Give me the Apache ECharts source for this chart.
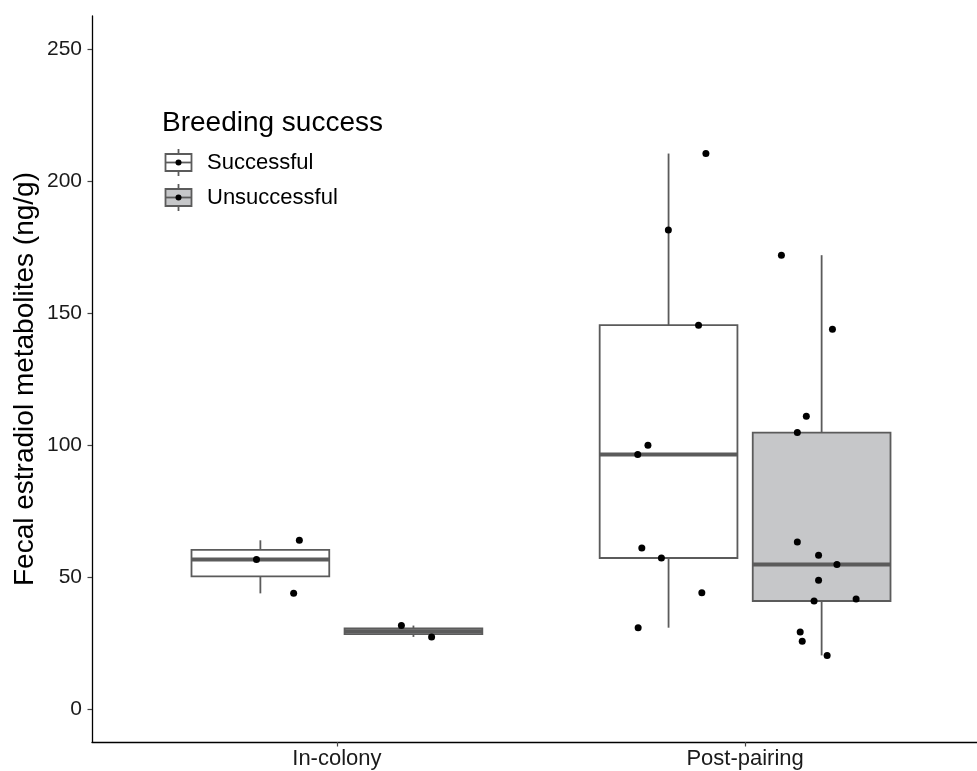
<!DOCTYPE html>
<html>
<head>
<meta charset="utf-8">
<script src="https://cdn.jsdelivr.net/npm/echarts@6/dist/echarts.min.js"></script>
<style>
html,body{margin:0;padding:0;background:#fff;overflow:hidden;width:977px;height:771px;}
#chart{width:1000px;height:771px;}
</style>
</head>
<body>
<div id="chart"></div>
<script>
// ---------- data ----------
const categories = ['In-colony', 'Post-pairing'];
const groups = ['Successful', 'Unsuccessful'];
const yTicks = [0, 50, 100, 150, 200, 250];

// individual measurements (ng/g) and their jittered x positions
const inColonySuccessful = [63.9, 56.6, 43.8];
const inColonySuccessfulX = [0.908, 0.803, 0.894];
const inColonyUnsuccessful = [31.6, 27.3];
const inColonyUnsuccessfulX = [1.158, 1.232];
const postSuccessful = [210.4, 181.4, 145.4, 99.9, 96.4, 61.0, 57.2, 44.0, 30.8];
const postSuccessfulX = [1.904, 1.812, 1.886, 1.762, 1.737, 1.747, 1.795, 1.894, 1.738];
const postUnsuccessful = [171.9, 143.8, 110.9, 104.7, 63.3, 58.2, 54.7, 48.8, 40.9, 41.7, 29.2, 25.7, 20.3];
const postUnsuccessfulX = [2.089, 2.214, 2.150, 2.128, 2.128, 2.180, 2.225, 2.180, 2.169, 2.272, 2.135, 2.140, 2.201];

// ---------- helpers ----------
function quantile7(sorted, p) {
  const h = (sorted.length - 1) * p;
  const lo = Math.floor(h), hi = Math.ceil(h);
  return sorted[lo] + (h - lo) * (sorted[hi] - sorted[lo]);
}
function boxStats(vals, xc) {
  const s = vals.slice().sort((a, b) => a - b);
  const q1 = quantile7(s, 0.25), med = quantile7(s, 0.5), q3 = quantile7(s, 0.75);
  const iqr = q3 - q1;
  const inside = s.filter(v => v >= q1 - 1.5 * iqr && v <= q3 + 1.5 * iqr);
  return [xc, inside[0], q1, med, q3, inside[inside.length - 1]];
}
const dodge = 0.1875, boxWidth = 0.3375;
const succBoxes = [boxStats(inColonySuccessful, 1 - dodge), boxStats(postSuccessful, 2 - dodge)];
const unsuccBoxes = [boxStats(inColonyUnsuccessful, 1 + dodge), boxStats(postUnsuccessful, 2 + dodge)];
const pts = [];
[[inColonySuccessful, inColonySuccessfulX], [inColonyUnsuccessful, inColonyUnsuccessfulX],
 [postSuccessful, postSuccessfulX], [postUnsuccessful, postUnsuccessfulX]].forEach(([v, x]) => {
  v.forEach((val, i) => pts.push([x[i], val]));
});

const stroke = '#5b5b5b';
function makeRender(fill) {
  return function (params, api) {
    const x = api.value(0);
    const pLo = api.coord([x, api.value(1)]);
    const pQ1 = api.coord([x, api.value(2)]);
    const pMed = api.coord([x, api.value(3)]);
    const pQ3 = api.coord([x, api.value(4)]);
    const pHi = api.coord([x, api.value(5)]);
    const hw = api.size([boxWidth, 0])[0] / 2;
    const ls = { stroke: stroke, lineWidth: 1.8, fill: null };
    return {
      type: 'group',
      children: [
        { type: 'line', shape: { x1: pQ3[0], y1: pQ3[1], x2: pHi[0], y2: pHi[1] }, style: ls },
        { type: 'line', shape: { x1: pQ1[0], y1: pQ1[1], x2: pLo[0], y2: pLo[1] }, style: ls },
        { type: 'rect', shape: { x: pQ1[0] - hw, y: pQ3[1], width: 2 * hw, height: pQ1[1] - pQ3[1] },
          style: { fill: fill, stroke: stroke, lineWidth: 1.8 } },
        { type: 'line', shape: { x1: pMed[0] - hw, y1: pMed[1], x2: pMed[0] + hw, y2: pMed[1] },
          style: { stroke: stroke, lineWidth: 4 } }
      ]
    };
  };
}

const font = 'Liberation Sans, Arial, sans-serif';
const chart = echarts.init(document.getElementById('chart'), null, { renderer: 'canvas' });

function legendKey(cy, fill) {
  return [
    { type: 'line', shape: { x1: 178.5, y1: cy - 13.5, x2: 178.5, y2: cy + 13.5 }, style: { stroke: stroke, lineWidth: 1.8 } },
    { type: 'rect', shape: { x: 165.5, y: cy - 8.5, width: 26, height: 17 }, style: { fill: fill, stroke: stroke, lineWidth: 1.8 } },
    { type: 'line', shape: { x1: 165.5, y1: cy, x2: 191.5, y2: cy }, style: { stroke: stroke, lineWidth: 1.8 } },
    { type: 'circle', shape: { cx: 178.5, cy: cy, r: 3 }, style: { fill: '#000' } }
  ];
}

chart.setOption({
  animation: false,
  backgroundColor: '#fff',
  grid: { left: 92, top: 16, width: 898, height: 726, containLabel: false },
  xAxis: {
    type: 'value', min: 0.4, max: 2.6,
    axisLine: { show: true, onZero: false, lineStyle: { color: '#000', width: 1.3 } },
    axisTick: { show: true, length: 4.5, customValues: [1, 2], lineStyle: { color: '#444', width: 1.2 } },
    axisLabel: { show: true, customValues: [1, 2], formatter: v => categories[Math.round(v) - 1] || '',
      fontSize: 22, color: '#1a1a1a', fontFamily: font, margin: 6 },
    splitLine: { show: false }
  },
  yAxis: {
    type: 'value', min: -12.5, max: 262.5,
    name: 'Fecal estradiol metabolites (ng/g)', nameLocation: 'middle', nameGap: 53, nameMoveOverlap: false,
    nameTextStyle: { fontSize: 28, color: '#000', fontFamily: font },
    axisLine: { show: true, onZero: false, lineStyle: { color: '#000', width: 1.3 } },
    axisTick: { show: true, length: 4.5, customValues: yTicks, lineStyle: { color: '#444', width: 1.2 } },
    axisLabel: { show: true, customValues: yTicks, fontSize: 21, color: '#1a1a1a', fontFamily: font, margin: 10 },
    splitLine: { show: false }
  },
  series: [
    { name: groups[0], type: 'custom', renderItem: makeRender('#ffffff'), data: succBoxes, z: 2, silent: true },
    { name: groups[1], type: 'custom', renderItem: makeRender('#c6c7c9'), data: unsuccBoxes, z: 2, silent: true },
    { type: 'scatter', data: pts, symbol: 'circle', symbolSize: 7, itemStyle: { color: '#000', opacity: 1 }, z: 5, silent: true }
  ],
  graphic: [
    { type: 'text', left: 162, top: 109, style: { text: 'Breeding success', fontSize: 28, fill: '#000', fontFamily: font } },
    ...legendKey(162.5, '#ffffff'),
    ...legendKey(197.5, '#c6c7c9'),
    { type: 'text', left: 207, top: 152, style: { text: groups[0], fontSize: 22, fill: '#000', fontFamily: font } },
    { type: 'text', left: 207, top: 187, style: { text: groups[1], fontSize: 22, fill: '#000', fontFamily: font } }
  ]
});
</script>
</body>
</html>
